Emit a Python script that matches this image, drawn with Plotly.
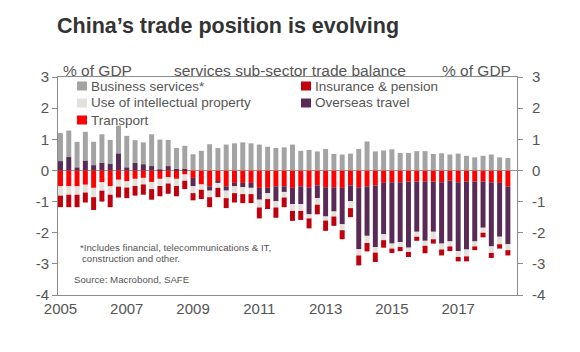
import plotly.graph_objects as go

# ---------------- data (% of GDP, quarterly 2005Q1-2018Q3) ----------------
years = list(range(2005, 2019))
quarters = [f"{y}Q{q}" for y in years for q in range(1, 5)][:55]

business = [0.90, 0.85, 0.82, 0.92, 0.75, 0.91, 0.76, 0.89, 1.01, 0.72, 0.70, 1.02, 0.96, 0.84, 0.67, 0.73,
            0.52, 0.63, 0.84, 0.72, 0.83, 0.87, 0.90, 0.87, 0.83, 0.76, 0.72, 0.74, 0.83, 0.63, 0.66, 0.61,
            0.69, 0.53, 0.51, 0.54, 0.69, 0.93, 0.61, 0.64, 0.68, 0.56, 0.56, 0.62, 0.62, 0.53, 0.55, 0.51,
            0.54, 0.47, 0.42, 0.47, 0.51, 0.42, 0.40]
travel = [0.30, 0.43, 0.10, 0.32, 0.17, 0.25, 0.22, 0.55, 0.10, 0.25, 0.20, 0.14, 0.03, 0.14, 0.05, 0.06,
          -0.27, 0.00, -0.14, -0.05, -0.14, -0.11, -0.14, -0.16, -0.38, -0.17, -0.48, -0.18, -0.52, -0.57, -0.87, -0.41,
          -0.94, -0.78, -1.17, -0.51, -1.99, -1.59, -1.98, -1.65, -1.97, -1.92, -2.12, -1.61, -1.91, -1.61, -1.97, -1.95,
          -2.21, -2.18, -1.92, -1.49, -2.06, -1.73, -1.85]
transport = [-0.51, -0.51, -0.51, -0.46, -0.56, -0.38, -0.51, -0.30, -0.35, -0.27, -0.24, -0.37, -0.27, -0.22, -0.27, -0.13,
             -0.24, -0.45, -0.51, -0.35, -0.51, -0.40, -0.40, -0.40, -0.56, -0.56, -0.51, -0.51, -0.56, -0.51, -0.54, -0.48,
             -0.54, -0.54, -0.56, -0.48, -0.54, -0.51, -0.48, -0.40, -0.38, -0.38, -0.36, -0.36, -0.35, -0.36, -0.38, -0.33,
             -0.38, -0.36, -0.36, -0.35, -0.38, -0.40, -0.52]
ip = [-0.30, -0.27, -0.27, -0.25, -0.30, -0.27, -0.27, -0.22, -0.20, -0.23, -0.21, -0.23, -0.23, -0.20, -0.23, -0.20,
      -0.22, -0.17, -0.21, -0.16, -0.24, -0.22, -0.22, -0.20, -0.25, -0.19, -0.20, -0.18, -0.22, -0.22, -0.13, -0.21,
      -0.13, -0.16, -0.19, -0.22, -0.20, -0.23, -0.18, -0.19, -0.16, -0.16, -0.14, -0.16, -0.16, -0.24, -0.19, -0.16,
      -0.19, -0.22, -0.16, -0.16, -0.21, -0.24, -0.19]
insurance = [-0.37, -0.40, -0.40, -0.32, -0.41, -0.35, -0.40, -0.35, -0.34, -0.31, -0.33, -0.34, -0.33, -0.33, -0.33, -0.27,
             -0.23, -0.30, -0.32, -0.30, -0.32, -0.30, -0.29, -0.29, -0.35, -0.32, -0.33, -0.31, -0.32, -0.29, -0.32, -0.31,
             -0.33, -0.30, -0.29, -0.29, -0.32, -0.27, -0.30, -0.24, -0.14, -0.13, -0.16, -0.13, -0.24, -0.14, -0.19, -0.15,
             -0.14, -0.16, -0.12, -0.15, -0.16, -0.14, -0.17]

tick_years = [2005, 2007, 2009, 2011, 2013, 2015, 2017]
y_ticks = [3, 2, 1, 0, -1, -2, -3, -4]

C_BUS = "#a3a3a3"
C_IP = "#e4e0dc"
C_TRN = "#ff0000"
C_INS = "#c0000c"
C_TRV = "#582a55"
TXT = "#555555"
AX = "#8c8c8c"
FONT = "Liberation Sans, Arial, sans-serif"

fig = go.Figure()
# stacking order: negatives stack transport -> travel -> IP -> insurance; positives travel -> business
for name, vals, col in [("Transport", transport, C_TRN),
                        ("Overseas travel", travel, C_TRV),
                        ("Use of intellectual property", ip, C_IP),
                        ("Insurance & pension", insurance, C_INS),
                        ("Business services*", business, C_BUS)]:
    fig.add_trace(go.Bar(x=quarters, y=vals, name=name, marker=dict(color=col, line=dict(width=0)),
                         showlegend=False))
# dummy trace to carry right-hand axis
fig.add_trace(go.Scatter(x=[quarters[0]], y=[0], yaxis="y2", mode="markers",
                         marker=dict(opacity=0), showlegend=False, hoverinfo="skip"))

L, R, T, B = 58, 517, 77, 295
W, H = 580, 352


def px(x):
    return (x - L) / (R - L)


def py(y):
    return (B - y) / (B - T)


ann = []
def text(x, y, s, size, xanchor="left", bold=False, color=TXT):
    ann.append(dict(x=px(x), y=py(y), xref="paper", yref="paper", text=(f"<b>{s}</b>" if bold else s),
                    showarrow=False, xanchor=xanchor, yanchor="middle",
                    font=dict(family=FONT, size=size, color=color)))

text(55, 26, "China’s trade position is evolving", 21.5, bold=True, color="#333333")
text(61, 70, "% of GDP", 15.5)
text(290, 70, "services sub-sector trade balance", 15.5, xanchor="center")
text(513, 70, "% of GDP", 15.5, xanchor="right")
text(78, 247, "*Includes financial, telecommunications &amp; IT,", 9.7)
text(80, 258, "construction and other.", 9.7)
text(72, 279, "Source: Macrobond, SAFE", 9.7)

shapes = []
legend_items = [(77, 86, "Business services*", C_BUS), (301, 86, "Insurance &amp; pension", C_INS),
                (77, 103, "Use of intellectual property", C_IP), (301, 103, "Overseas travel", C_TRV),
                (77, 120, "Transport", C_TRN)]
for lx, ly, lab, col in legend_items:
    shapes.append(dict(type="rect", xref="paper", yref="paper", x0=px(lx), x1=px(lx + 10),
                       y0=py(ly + 4.5), y1=py(ly - 4.5), fillcolor=col, line=dict(width=0)))
    text(lx + 12, ly, lab, 13.5)

axis_common = dict(range=[-4, 3], tickvals=y_ticks, ticktext=[str(v) for v in y_ticks],
                   ticks="outside", ticklen=5, tickcolor=AX, showline=True, linecolor=AX, linewidth=1,
                   showgrid=False, tickfont=dict(family=FONT, size=15, color=TXT), fixedrange=True)

fig.update_layout(
    width=W, height=H, margin=dict(l=L, r=W - R, t=T, b=H - B),
    paper_bgcolor="white", plot_bgcolor="white",
    barmode="relative", bargap=0.4,
    xaxis=dict(type="category", range=[-0.3, 55.1], tickvals=[f"{y}Q1" for y in tick_years],
               ticktext=[str(y) for y in tick_years], ticks="", showline=True, linecolor=AX, mirror=True,
               showgrid=False, tickfont=dict(family=FONT, size=15, color=TXT)),
    yaxis=dict(**axis_common, zeroline=True, zerolinecolor="#9a9a9a", zerolinewidth=1),
    yaxis2=dict(**axis_common, overlaying="y", side="right", zeroline=False, ticklabelstandoff=6),
    annotations=ann, shapes=shapes, showlegend=False,
)

fig.write_html("out.html")
